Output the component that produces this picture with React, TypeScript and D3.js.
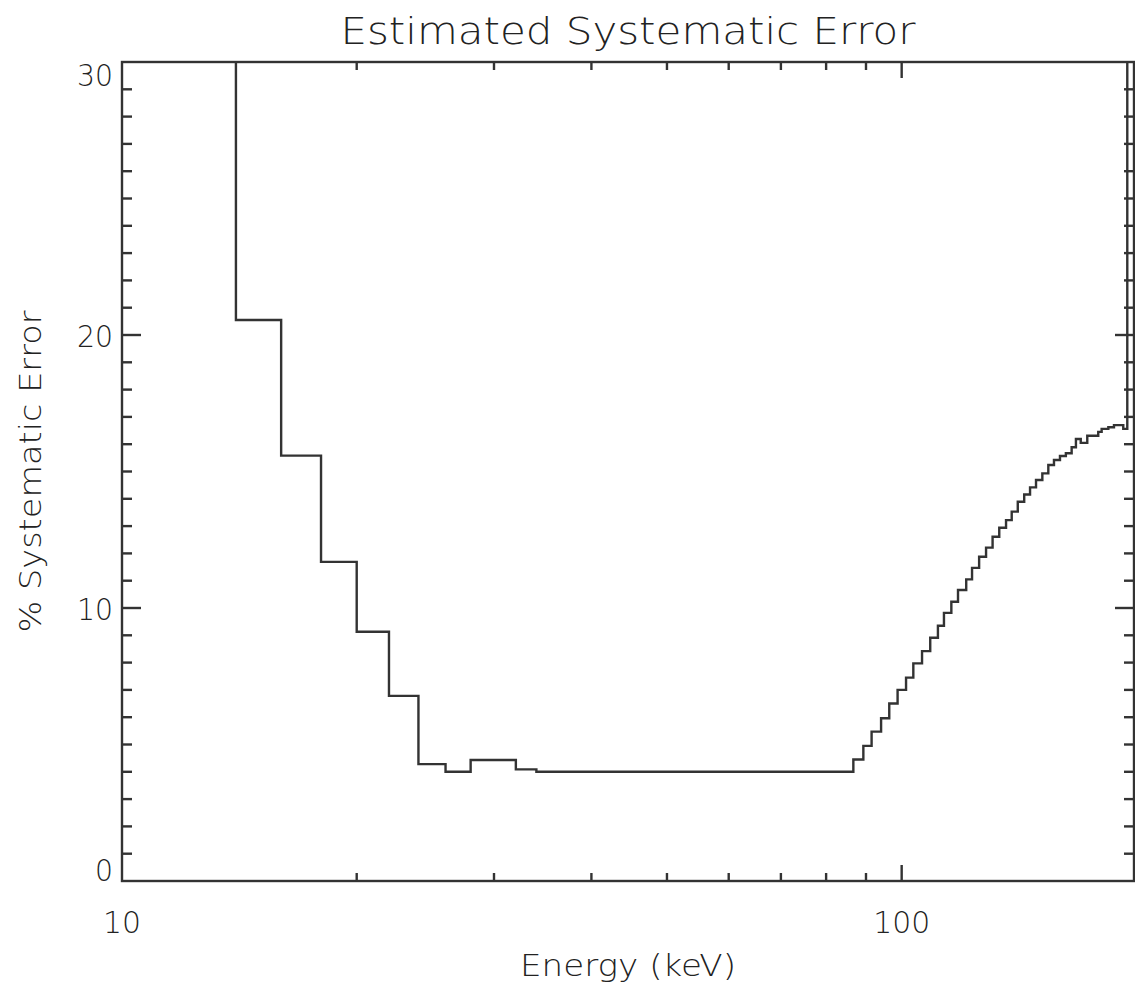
import React, { useRef, useEffect } from 'react';
import * as d3 from 'd3';

// bin edges in keV (one more than the values) and % systematic error per bin
const binEdges = [
  12, 14, 16, 18, 20, 22, 24, 26, 28, 32, 34,
  86.7, 89.3, 91.5, 94.1, 96.4, 98.8,
  101.3, 103.5, 106.2, 108.8, 111.3, 113.3, 115.8, 118.1,
  121.0, 123.1, 125.7, 128.3, 130.8, 133.4, 136.1, 138.4,
  140.9, 143.6, 146.1, 148.7, 151.5, 154.2, 156.8, 159.6,
  162.4, 165.2, 167.3, 169.7, 173.0, 178.7, 180.5, 184.1,
  187.2, 192.4, 194.7, 200
];
const errorPct = [
  45, 20.55, 15.58, 11.69, 9.13, 6.78, 4.28, 4.0, 4.43, 4.09, 4.0,
  4.45, 4.95, 5.47, 5.96, 6.5, 7.0,
  7.45, 7.97, 8.42, 8.91, 9.35, 9.82, 10.23, 10.66,
  11.05, 11.47, 11.88, 12.21, 12.61, 12.94, 13.22, 13.53,
  13.89, 14.16, 14.42, 14.69, 14.93, 15.24, 15.42, 15.57,
  15.67, 15.89, 16.19, 16.05, 16.31, 16.45, 16.56, 16.62,
  16.7, 16.56, 40
];

const xMajorTicks = [10, 100];
const xMinorTicks = [20, 30, 40, 50, 60, 70, 80, 90];
const yMajorTicks = [0, 10, 20, 30];
const yMinorTicks = d3.range(0, 31).filter(v => v % 10 !== 0);

const title = "Estimated Systematic Error";
const xTitle = "Energy (keV)";
const yTitle = "% Systematic Error";

const App = () => {
  const svgRef = useRef(null);

  useEffect(() => {
    const width = 1135;
    const height = 986;
    const left = 122, right = 1134, top = 62, bottom = 881;
    const ink = "#333";
    const font = "'DejaVu Sans', 'Liberation Sans', sans-serif";

    const svg = d3.select(svgRef.current);
    svg.selectAll("*").remove();
    svg.attr("width", width).attr("height", height);

    const x = d3.scaleLog().domain([10, 198.6]).range([left, right]);
    const y = d3.scaleLinear().domain([0, 30]).range([bottom, top]);

    svg.append("defs").append("clipPath").attr("id", "plot-clip")
      .append("rect")
      .attr("x", left).attr("y", top)
      .attr("width", right - left).attr("height", bottom - top);

    // step line
    const pts = errorPct.map((v, i) => [binEdges[i], v]);
    pts.push([binEdges[binEdges.length - 1], errorPct[errorPct.length - 1]]);
    const line = d3.line()
      .x(d => x(d[0]))
      .y(d => y(d[1]))
      .curve(d3.curveStepAfter);

    svg.append("path")
      .datum(pts)
      .attr("d", line)
      .attr("clip-path", "url(#plot-clip)")
      .style("fill", "none")
      .style("stroke", ink)
      .style("stroke-width", 2.4)
      .style("stroke-linejoin", "miter");

    // frame
    svg.append("rect")
      .attr("x", left).attr("y", top)
      .attr("width", right - left).attr("height", bottom - top)
      .style("fill", "none")
      .style("stroke", ink)
      .style("stroke-width", 2.4);

    const ticks = svg.append("g").style("stroke", ink).style("stroke-width", 2.4);

    // x ticks, bottom and top
    const xTick = (vals, len) => {
      vals.forEach(v => {
        ticks.append("line")
          .attr("x1", x(v)).attr("x2", x(v))
          .attr("y1", bottom).attr("y2", bottom - len);
        ticks.append("line")
          .attr("x1", x(v)).attr("x2", x(v))
          .attr("y1", top).attr("y2", top + len);
      });
    };
    xTick(xMajorTicks.filter(v => v > 10), 16);
    xTick(xMinorTicks, 8);

    // y ticks, left and right
    const yTick = (vals, len) => {
      vals.forEach(v => {
        ticks.append("line")
          .attr("x1", left).attr("x2", left + len)
          .attr("y1", y(v)).attr("y2", y(v));
        ticks.append("line")
          .attr("x1", right).attr("x2", right - len)
          .attr("y1", y(v)).attr("y2", y(v));
      });
    };
    yTick(yMajorTicks.filter(v => v > 0 && v < 30), 19);
    yTick(yMinorTicks, 10);

    const labels = svg.append("g")
      .style("font-family", font)
      .style("font-weight", 200)
      .style("fill", "#222");

    // x labels
    labels.selectAll(".xl")
      .data(xMajorTicks)
      .enter()
      .append("text")
      .attr("x", d => x(d))
      .attr("y", 933)
      .attr("text-anchor", "middle")
      .attr("textLength", d => String(d).length * 19)
      .attr("lengthAdjust", "spacingAndGlyphs")
      .style("font-size", "31px")
      .text(d => d3.format("d")(d));

    // y labels, end labels kept inside the frame
    labels.selectAll(".yl")
      .data(yMajorTicks)
      .enter()
      .append("text")
      .attr("x", 113)
      .attr("y", d => Math.min(Math.max(y(d), top + 12), bottom - 12) + 11.5)
      .attr("text-anchor", "end")
      .attr("textLength", d => String(d).length * 18)
      .attr("lengthAdjust", "spacingAndGlyphs")
      .style("font-size", "31px")
      .text(d => d);

    labels.append("text")
      .attr("x", (left + right) / 2)
      .attr("y", 44)
      .attr("text-anchor", "middle")
      .attr("textLength", 575)
      .attr("lengthAdjust", "spacingAndGlyphs")
      .style("font-size", "38px")
      .text(title);

    labels.append("text")
      .attr("x", (left + right) / 2)
      .attr("y", 976)
      .attr("text-anchor", "middle")
      .attr("textLength", 216)
      .attr("lengthAdjust", "spacingAndGlyphs")
      .style("font-size", "31px")
      .text(xTitle);

    labels.append("text")
      .attr("transform", `translate(41,${(top + bottom) / 2}) rotate(-90)`)
      .attr("text-anchor", "middle")
      .attr("textLength", 322)
      .attr("lengthAdjust", "spacingAndGlyphs")
      .style("font-size", "31px")
      .text(yTitle);
  }, []);

  return (
    <div style={{ position: "absolute", left: 0, top: 0, background: "white" }}>
      <svg ref={svgRef} style={{ display: "block" }}></svg>
    </div>
  );
};

export default App;
